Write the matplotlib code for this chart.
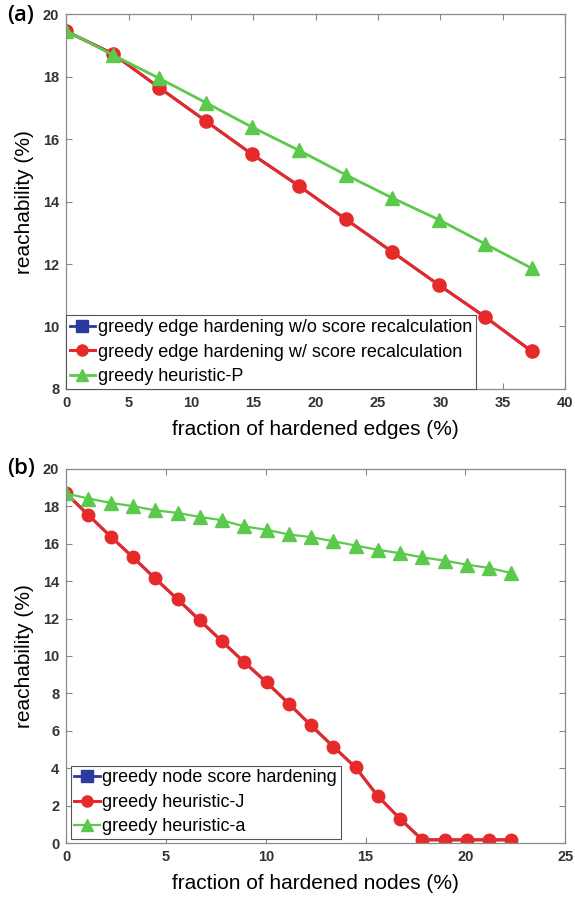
import matplotlib
matplotlib.use("Agg")
import matplotlib.pyplot as plt

# panel (a): edge hardening
edges_x = [0, 3.73, 7.47, 11.2, 14.93, 18.67, 22.4, 26.13, 29.87, 33.6, 37.33]
edge_wo_recalc = [19.46, 18.74, 17.65, 16.58, 15.51, 14.5, 13.44, 12.39, 11.33, 10.3, 9.2]
edge_w_recalc = [19.46, 18.74, 17.65, 16.58, 15.51, 14.5, 13.44, 12.39, 11.33, 10.3, 9.2]
heuristic_P = [19.48, 18.7, 17.95, 17.17, 16.38, 15.64, 14.86, 14.12, 13.42, 12.64, 11.86]
labels_a = ["greedy edge hardening w/o score recalculation",
            "greedy edge hardening w/ score recalculation",
            "greedy heuristic-P"]

# panel (b): node hardening
nodes_x = [0, 1.12, 2.23, 3.35, 4.46, 5.58, 6.69, 7.81, 8.92, 10.04, 11.15,
           12.27, 13.38, 14.5, 15.61, 16.73, 17.84, 18.96, 20.07, 21.19, 22.3]
node_score = [18.68, 17.52, 16.38, 15.27, 14.14, 13.03, 11.91, 10.78, 9.67, 8.59, 7.46,
              6.29, 5.16, 4.05, 2.52, 1.3, 0.18, 0.18, 0.18, 0.18, 0.18]
heuristic_J = [18.68, 17.52, 16.38, 15.27, 14.14, 13.03, 11.91, 10.78, 9.67, 8.59, 7.46,
               6.29, 5.16, 4.05, 2.52, 1.3, 0.18, 0.18, 0.18, 0.18, 0.18]
heuristic_a = [18.68, 18.41, 18.18, 18.0, 17.78, 17.64, 17.43, 17.25, 16.92, 16.74, 16.49,
               16.35, 16.13, 15.9, 15.67, 15.49, 15.27, 15.09, 14.88, 14.7, 14.43]
labels_b = ["greedy node score hardening", "greedy heuristic-J", "greedy heuristic-a"]

BLUE = "#2b3a9c"
RED = "#e62a2a"
GREEN = "#5bc94b"

plt.rcParams['font.family'] = ['Liberation Sans', 'DejaVu Sans']

fig = plt.figure(figsize=(5.75, 8.98), dpi=100)
ax_a = fig.add_axes([0.115, 0.567, 0.868, 0.417])
ax_b = fig.add_axes([0.115, 0.061, 0.868, 0.417])


def style_axes(ax):
    for s in ax.spines.values():
        s.set_color("#8a8a8a")
        s.set_linewidth(0.9)
    ax.tick_params(direction="in", length=4, width=0.8, color="#8a8a8a",
                   top=True, right=True, labelsize=10.5, labelcolor="#333333",
                   pad=5)
    for lbl in ax.get_xticklabels() + ax.get_yticklabels():
        lbl.set_fontweight("bold")


def add_legend(ax, anchor):
    leg = ax.legend(loc="lower left", bbox_to_anchor=anchor, fontsize=13,
                    fancybox=False, framealpha=1, edgecolor="#555555",
                    borderaxespad=0, borderpad=0.2, labelspacing=0.42,
                    handlelength=1.4, handletextpad=0.15)
    leg.get_frame().set_linewidth(0.8)
    # legend markers all the same size, like the original
    for h in leg.legend_handles:
        h.set_markersize(8)


# (a)
ax_a.plot(edges_x, edge_wo_recalc, color=BLUE, marker="s", ms=5, lw=2.0, label=labels_a[0])
ax_a.plot(edges_x, edge_w_recalc, color=RED, marker="o", ms=9.5, lw=2.2, label=labels_a[1])
ax_a.plot(edges_x, heuristic_P, color=GREEN, marker="^", ms=10, lw=2.0, label=labels_a[2])
ax_a.set_xlim(0, 40)
ax_a.set_ylim(8, 20)
ax_a.set_xticks(range(0, 41, 5))
ax_a.set_yticks(range(8, 21, 2))
ax_a.set_xlabel("fraction of hardened edges (%)", fontsize=15, labelpad=7)
ax_a.set_ylabel("reachability (%)", fontsize=15, labelpad=6)
style_axes(ax_a)
add_legend(ax_a, (0, 0))
fig.text(0.012, 0.983, "(a)", fontsize=16, family="Open Sans", weight="semibold",
         va="center", ha="left")

# (b)
ax_b.plot(nodes_x, node_score, color=BLUE, marker="s", ms=5, lw=2.0, label=labels_b[0])
ax_b.plot(nodes_x, heuristic_J, color=RED, marker="o", ms=9, lw=2.2, label=labels_b[1])
ax_b.plot(nodes_x, heuristic_a, color=GREEN, marker="^", ms=9.5, lw=1.6, label=labels_b[2])
ax_b.set_xlim(0, 25)
ax_b.set_ylim(0, 20)
ax_b.set_xticks(range(0, 26, 5))
ax_b.set_yticks(range(0, 21, 2))
ax_b.set_xlabel("fraction of hardened nodes (%)", fontsize=15, labelpad=7)
ax_b.set_ylabel("reachability (%)", fontsize=15, labelpad=6)
style_axes(ax_b)
add_legend(ax_b, (0.009, 0.011))
fig.text(0.012, 0.478, "(b)", fontsize=16, family="Open Sans", weight="semibold",
         va="center", ha="left")

plt.savefig("out.png", dpi=100)
plt.close()
